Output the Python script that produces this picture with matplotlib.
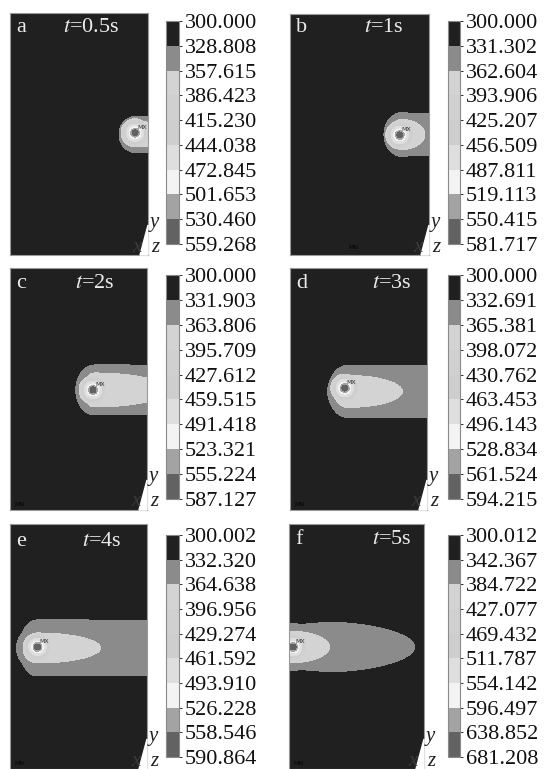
import numpy as np
import matplotlib.pyplot as plt
from matplotlib.patches import Polygon

plt.rcParams['font.family'] = ['Liberation Serif', 'DejaVu Serif']
plt.rcParams['mathtext.fontset'] = 'stix'

# --- data ---
letters = ['a', 'b', 'c', 'd', 'e', 'f']
times = ['0.5', '1', '2', '3', '4', '5']

lev_a = [300.000, 328.808, 357.615, 386.423, 415.230, 444.038, 472.845, 501.653, 530.460, 559.268]
lev_b = [300.000, 331.302, 362.604, 393.906, 425.207, 456.509, 487.811, 519.113, 550.415, 581.717]
lev_c = [300.000, 331.903, 363.806, 395.709, 427.612, 459.515, 491.418, 523.321, 555.224, 587.127]
lev_d = [300.000, 332.691, 365.381, 398.072, 430.762, 463.453, 496.143, 528.834, 561.524, 594.215]
lev_e = [300.002, 332.320, 364.638, 396.956, 429.274, 461.592, 493.910, 526.228, 558.546, 590.864]
lev_f = [300.012, 342.367, 384.722, 427.077, 469.432, 511.787, 554.142, 596.497, 638.852, 681.208]
levels = [lev_a, lev_b, lev_c, lev_d, lev_e, lev_f]

# heat source position (fraction of plate width / height)
src_x = [0.906, 0.79, 0.606, 0.40, 0.20, 0.03]
src_y = [0.505, 0.498, 0.496, 0.504, 0.498, 0.498]

# outer isotherm (grey ring): head end, widest point, tail end, half height (px), tail exponent
out_left = [0.79, 0.676, 0.48, 0.28, 0.07, -0.30]
out_peak = [0.90, 0.80, 0.62, 0.42, 0.20, 0.35]
out_right = [1.40, 1.50, 1.80, 2.00, 2.00, 0.93]
out_half = [17.5, 21.5, 25.0, 26.0, 28.0, 24.5]
out_pow = [4.0, 4.0, 4.0, 4.0, 4.0, 1.6]
out_yc = [0.498, 0.500, 0.496, 0.490, 0.494, 0.498]

# inner isotherm (light zone)
in_left = [0.833, 0.72, 0.53, 0.32, 0.095, -0.20]
in_peak = [0.91, 0.80, 0.62, 0.42, 0.20, 0.00]
in_right = [1.30, 0.97, 1.15, 0.82, 0.66, 0.30]
in_half = [12.5, 15.0, 17.0, 16.0, 15.0, 16.0]
in_pow = [4.0, 2.0, 2.0, 2.0, 2.0, 2.0]

# hot core radii in px for bands 6, 7, 8
core_r = [6.0, 4.0, 3.0]

band_colors = ['#202020', '#8b8b8b', '#d3d3d3', '#d0d0d0', '#cecece',
               '#dedede', '#f3f3f3', '#a3a3a3', '#626262']

# --- layout (pixels) ---
W, H = 545, 769
rect_x = [10, 290, 10, 290, 10, 289]
rect_y = [13, 14, 268, 268, 524, 524]
rect_w = [138, 139, 137, 137, 137, 135]
rect_h = [242, 241, 242, 242, 245, 245]
cb_x = [166, 448, 166, 448, 166, 448]
cb_y = [21, 21, 275, 275, 535, 535]
cb_w = [13, 12, 13, 12, 13, 12]
cb_h = [223, 223, 224, 224, 222, 222]
t_x = [63, 364, 75, 372, 82, 372]
lab_dy = [14, 13, 15, 15, 18, 16]


def fig_rect(x, y, w, h):
    return [x / W, 1 - (y + h) / H, w / W, h / H]


def shape_dist(X, Y, left, peak, right, yc, half, p_tail):
    dx = X - peak
    a = np.where(dx < 0, peak - left, right - peak)
    p = np.where(dx < 0, 2.0, p_tail)
    return np.abs(dx / a) ** p + ((Y - yc) / half) ** 2


fig = plt.figure(figsize=(W / 100, H / 100), dpi=100)

xg = np.linspace(0, 1, 400)
yg = np.linspace(0, 1, 700)
X, Y = np.meshgrid(xg, yg)

for i in range(6):
    lev = np.array(levels[i])
    w = lev[1] - lev[0]
    pw, ph = rect_w[i], rect_h[i]

    def band_field(d, b):
        return lev[b] + 0.9 * w * (1 - d)

    T = np.full(X.shape, lev[0] + 0.4 * w)
    d_out = shape_dist(X, Y, out_left[i], out_peak[i], out_right[i],
                       out_yc[i], out_half[i] / ph, out_pow[i])
    T = np.maximum(T, band_field(np.clip(d_out, 0, None), 1))
    d_in = shape_dist(X, Y, in_left[i], in_peak[i], in_right[i],
                      out_yc[i], in_half[i] / ph, in_pow[i])
    T = np.maximum(T, band_field(np.clip(d_in, 0, None), 2))
    for k, r in enumerate(core_r):
        d_c = ((X - src_x[i]) / (r / pw)) ** 2 + ((Y - src_y[i]) / (r / ph)) ** 2
        T = np.maximum(T, band_field(d_c, 6 + k))
    T = np.minimum(T, lev[-1] - 0.05 * w)

    ax = fig.add_axes(fig_rect(rect_x[i], rect_y[i], pw, ph))
    cs = ax.contourf(X, Y, T, levels=lev, colors=band_colors)
    ax.set_xlim(0, 1)
    ax.set_ylim(0, 1)
    ax.set_xticks([])
    ax.set_yticks([])
    for s in ax.spines.values():
        s.set_color('#9a9a9a')
        s.set_linewidth(0.8)

    # clipped corner near the axis triad
    ax.add_patch(Polygon([(1.0, 30 / ph), (1 - 8 / pw, 0), (1.0, 0)],
                         closed=True, transform=ax.transAxes, color='white',
                         zorder=5, clip_on=False))

    ax.text(src_x[i] + 2 / pw, src_y[i] + 4 / ph, 'MX', fontsize=4.5,
            color='#303030', fontfamily='DejaVu Sans', zorder=6)
    if i == 1:
        ax.text(0.42, 6 / ph, 'MN', fontsize=4.5, color='#050505',
                fontfamily='DejaVu Sans')
    elif i > 1:
        ax.text(0.03, 4 / ph, 'MN', fontsize=4.5, color='#050505',
                fontfamily='DejaVu Sans')

    ax.text(6 / pw, 1 - lab_dy[i] / ph, letters[i], color='#ececec',
            fontsize=16, va='center', ha='left')
    ax.text((t_x[i] - rect_x[i]) / pw, 1 - lab_dy[i] / ph,
            r'$t$=' + times[i] + 's', color='#ececec', fontsize=16,
            va='center', ha='left')

    # axis triad
    rx = rect_x[i] + pw
    by = rect_y[i] + ph
    fig.text((rx + 6) / W, 1 - (by - 33) / H, 'y', style='italic',
             fontsize=15, color='#222222', ha='center', va='center')
    fig.text((rx - 11) / W, 1 - (by - 8) / H, 'x', style='italic',
             fontsize=15, color='#3a3a3a', ha='center', va='center', zorder=10)
    fig.text((rx + 7) / W, 1 - (by - 8) / H, 'z', style='italic',
             fontsize=15, color='#222222', ha='center', va='center')

    cax = fig.add_axes(fig_rect(cb_x[i], cb_y[i], cb_w[i], cb_h[i]))
    cb = fig.colorbar(cs, cax=cax, ticks=lev)
    cax.invert_yaxis()
    cax.set_yticklabels([f'{v:.3f}' for v in lev])
    cax.tick_params(length=2, width=0.6, pad=2, labelsize=16, colors='#111111')
    cb.outline.set_edgecolor('#8a8a8a')
    cb.outline.set_linewidth(0.8)

fig.savefig('out.png', dpi=100, facecolor='white')
